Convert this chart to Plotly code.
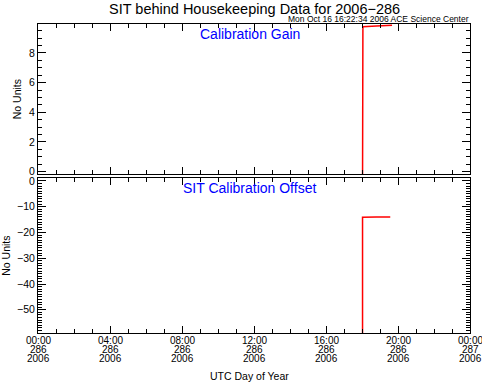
import plotly.graph_objects as go
from plotly.subplots import make_subplots

# Data (hours of day 286, 2006)
gain_hours = [18.03, 18.03, 18.05, 18.8, 19.67]
gain_values = [-1.0, 6.8, 9.77, 9.82, 9.86]
offset_hours = [18.03, 18.03, 18.8, 19.57]
offset_values = [-65.0, -14.1, -14.05, -14.0]

tick_hours = [0, 4, 8, 12, 16, 20, 24]
tick_times = ["00:00", "04:00", "08:00", "12:00", "16:00", "20:00", "00:00"]
tick_days = ["286", "286", "286", "286", "286", "286", "287"]
tick_years = ["2006"] * 7

FONT = "Liberation Sans"
TF = 10.5

fig = make_subplots(rows=2, cols=1, shared_xaxes=False, vertical_spacing=0.0)
fig.add_trace(go.Scatter(x=gain_hours, y=gain_values, mode="lines",
                         line=dict(color="red", width=1.5), showlegend=False), row=1, col=1)
fig.add_trace(go.Scatter(x=offset_hours, y=offset_values, mode="lines",
                         line=dict(color="red", width=1.5), showlegend=False), row=2, col=1)

xcommon = dict(range=[0, 24], showgrid=False, zeroline=False, showline=True, linecolor="black",
               linewidth=1, mirror="ticks", ticks="inside", ticklen=7, tickcolor="black",
               tickvals=tick_hours, automargin=False, showticklabels=False,
               minor=dict(ticks="inside", ticklen=4, dtick=1, tickcolor="black", showgrid=False))
fig.update_xaxes(**xcommon)

ycommon = dict(showgrid=False, zeroline=False, showline=True, linecolor="black", linewidth=1,
               mirror="ticks", ticks="inside", ticklen=8, tickcolor="black", automargin=False,
               tickfont=dict(size=TF, color="black", family=FONT),
               title=dict(text="No Units", font=dict(size=TF, family=FONT), standoff=5))
fig.update_yaxes(**ycommon)
fig.update_yaxes(range=[-0.18, 9.95], dtick=2, tick0=0,
                 minor=dict(ticks="inside", ticklen=4, dtick=0.5, tickcolor="black"),
                 domain=[0.5136, 1.0], row=1, col=1)
fig.update_yaxes(range=[-59.0, 1.0], dtick=10, tick0=0,
                 minor=dict(ticks="inside", ticklen=4, dtick=1, tickcolor="black"),
                 domain=[0.0, 0.5006], row=2, col=1)

annotations = [
    dict(text="SIT behind Housekeeping Data for 2006−286", x=0.5, xref="paper", y=1.0,
         yref="paper", yanchor="middle", yshift=15, showarrow=False,
         font=dict(size=14.5, family=FONT), xanchor="center"),
    dict(text="Mon Oct 16 16:22:34 2006 ACE Science Center", x=1.0, xref="paper", y=1.0,
         yref="paper", yanchor="bottom", xanchor="right", showarrow=False,
         font=dict(size=8.5, family=FONT), borderpad=0, yshift=-1),
    dict(text="Calibration Gain", x=0.49, xref="paper", y=1.0, yref="paper", yanchor="middle",
         yshift=-10, showarrow=False, font=dict(size=14, color="blue", family=FONT)),
    dict(text="SIT Calibration Offset", x=0.49, xref="paper", y=0.5006, yref="paper",
         yanchor="middle", yshift=-10, showarrow=False, font=dict(size=14, color="blue", family=FONT)),
    dict(text="UTC Day of Year", x=0.49, xref="paper", y=0.0, yref="paper", yanchor="middle",
         yshift=-43, showarrow=False, font=dict(size=TF, family=FONT)),
]
for h, t, d, yr in zip(tick_hours, tick_times, tick_days, tick_years):
    for txt, shift in ((t, -7.4), (d, -16.2), (yr, -25.0)):
        annotations.append(dict(text=txt, x=h, xref="x2", y=0.0, yref="paper",
                                yanchor="middle", yshift=shift, showarrow=False, borderpad=0,
                                font=dict(size=10, family=FONT)))

fig.update_layout(
    width=482, height=382,
    margin=dict(l=38, r=12, t=24, b=49, autoexpand=False),
    paper_bgcolor="white", plot_bgcolor="white",
    font=dict(family=FONT, color="black"),
    annotations=annotations,
)

fig.write_html("out.html", config={"displayModeBar": False},
               post_script="document.body.style.margin='0';document.body.style.overflow='hidden';")
